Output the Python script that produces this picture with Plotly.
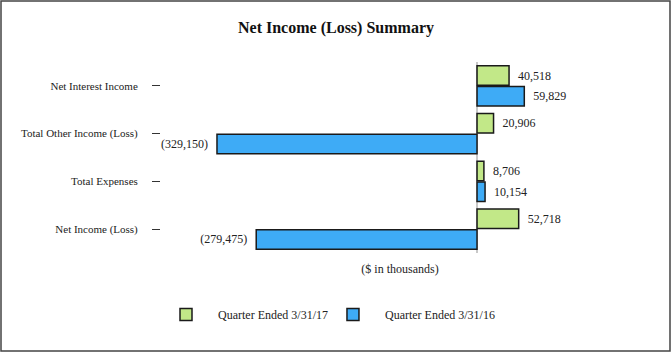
import plotly.graph_objects as go

categories = ["Net Interest Income", "Total Other Income (Loss)", "Total Expenses", "Net Income (Loss)"]
q2017 = [40518, 20906, 8706, 52718]
q2016 = [59829, -329150, 10154, -279475]
series_names = ["Quarter Ended 3/31/17", "Quarter Ended 3/31/16"]
colors = ["#C2E888", "#3EABF6"]

NB = "\u00a0"

def fmt(v):
    return f"({abs(v):,}){NB*2}" if v < 0 else f"{NB*2}{v:,}"

W, H = 672, 353
L, R, T, B = 161, 33, 62, 100
pw, ph = W - L - R, H - T - B

fig = go.Figure()
for name, vals, col in zip(series_names, [q2017, q2016], colors):
    fig.add_trace(go.Bar(
        y=categories, x=vals, orientation="h", name=NB * 4 + name,
        marker=dict(color=col, line=dict(color="#1a1a1a", width=1.5)),
        text=[fmt(v) for v in vals], textposition="outside",
        textfont=dict(family="Liberation Serif", size=12, color="#222"),
        cliponaxis=False,
    ))

fig.update_layout(
    width=W, height=H,
    margin=dict(l=L, r=R, t=T, b=B),
    paper_bgcolor="white", plot_bgcolor="white",
    barmode="group", bargap=0.14, bargroupgap=0.05,
    font=dict(family="Liberation Serif", size=12, color="#222"),
    title=dict(text="<b>Net Income (Loss) Summary</b>", x=0.5, xanchor="center",
               y=1 - 27 / H, yanchor="middle",
               font=dict(family="Liberation Serif", size=16, color="#111")),
    showlegend=True,
    legend=dict(orientation="h", x=(333 - L) / pw, xanchor="center",
                y=-(300 - (T + ph)) / ph, yanchor="top",
                font=dict(family="Liberation Serif", size=12, color="#222"),
                traceorder="normal", itemwidth=30),
    xaxis=dict(range=[-400000, 205000], showgrid=False, showticklabels=False,
               ticks="", zeroline=True, zerolinecolor="#c8c8c8", zerolinewidth=1.5,
               showline=False,
               title=dict(text="($ in thousands)", standoff=11,
                          font=dict(family="Liberation Serif", size=12, color="#222"))),
    yaxis=dict(autorange="reversed", showgrid=False, showline=False, zeroline=False,
               ticks="outside", ticklen=8, tickcolor="#333", tickwidth=1,
               ticklabelstandoff=12,
               tickfont=dict(family="Liberation Serif", size=11, color="#222")),
)

# outer border
fig.add_shape(type="rect", xref="paper", yref="paper",
              x0=-(L - 1) / pw, x1=1 + (R - 2) / pw,
              y0=-(B - 2) / ph, y1=1 + (T - 1) / ph,
              line=dict(color="#444", width=1.5), fillcolor="rgba(0,0,0,0)", layer="below")

fig.write_html("out.html")
